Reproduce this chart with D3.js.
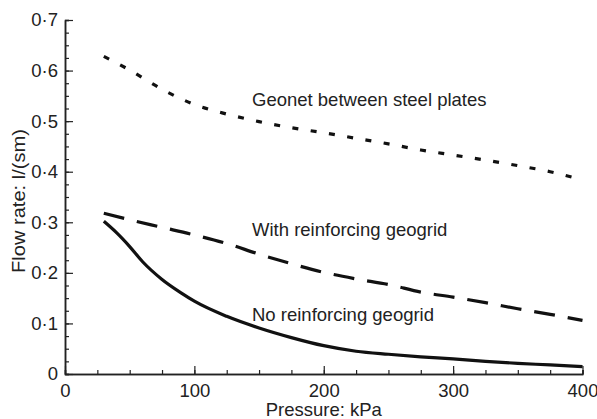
<!DOCTYPE html>
<html><head><meta charset="utf-8">
<script src="https://cdn.jsdelivr.net/npm/d3@7"></script>
<style>
html,body{margin:0;padding:0;background:#fff;}
svg text{font-family:"Liberation Sans",Arial,Helvetica,sans-serif;fill:#222;}
</style></head>
<body><svg id="c" width="597" height="419"></svg>
<script>
// Data
const geonetX = [30,50,75,100,125,150,175,200,225,250,275,300,325,350,375,395];
const geonetY = [0.628,0.601,0.563,0.533,0.514,0.499,0.487,0.477,0.466,0.455,0.443,0.433,0.423,0.412,0.400,0.387];
const withGridX = [30,50,75,100,125,150,175,200,225,250,275,300,325,350,375,400];
const withGridY = [0.318,0.305,0.290,0.275,0.258,0.237,0.218,0.201,0.188,0.177,0.162,0.152,0.141,0.129,0.118,0.106];
const noGridX = [30,40,50,60,75,90,100,125,150,175,200,225,250,275,300,325,350,375,400];
const noGridY = [0.302,0.279,0.252,0.222,0.187,0.160,0.144,0.114,0.091,0.072,0.056,0.045,0.039,0.034,0.030,0.025,0.021,0.018,0.0145];
const xTicks = [0,100,200,300,400];
const xTickLabels = ["0","100","200","300","400"];
const yTicks = [0,0.1,0.2,0.3,0.4,0.5,0.6,0.7];
const yTickLabels = ["0","0·1","0·2","0·3","0·4","0·5","0·6","0·7"];
const seriesNames = ["Geonet between steel plates","With reinforcing geogrid","No reinforcing geogrid"];
const xTitle = "Pressure: kPa";
const yTitle = "Flow rate: l/(sm)";

const svg = d3.select("#c");
const x = d3.scaleLinear().domain([0,400]).range([65,582.5]);
const y = d3.scaleLinear().domain([0,0.7]).range([374,20]);
const FS = 18.5;

// axes
const xMinor = d3.range(0,401,25);
const yMinor = d3.range(0,0.7001,0.025);
const gx = svg.append("g").attr("transform","translate(0,374)");
gx.call(d3.axisBottom(x).tickValues(xMinor).tickSize(-4).tickFormat(""));
gx.append("g").call(d3.axisBottom(x).tickValues(xTicks).tickSize(-8).tickFormat((d,i)=>xTickLabels[i]).tickSizeOuter(0));
gx.selectAll("path.domain").attr("stroke","#222").attr("stroke-width",1.5);
gx.selectAll("line").attr("stroke","#222").attr("stroke-width",1.2);
gx.selectAll("text").attr("font-size",FS).attr("dy",null).attr("y",23).attr("fill","#222");

const gy = svg.append("g").attr("transform","translate(65,0)");
gy.call(d3.axisLeft(y).tickValues(yMinor).tickSize(-4).tickFormat(""));
gy.append("g").call(d3.axisLeft(y).tickValues(yTicks).tickSize(-8).tickFormat((d,i)=>yTickLabels[i]).tickSizeOuter(0));
gy.selectAll("path.domain").attr("stroke","#222").attr("stroke-width",1.5);
gy.selectAll("line").attr("stroke","#222").attr("stroke-width",1.2);
gy.selectAll("text").attr("font-size",FS).attr("x",-7).attr("fill","#222");

// titles
svg.append("text").attr("x",x(200)).attr("y",416).attr("text-anchor","middle").attr("font-size",FS).text(xTitle);
svg.append("text").attr("transform","translate(25,201) rotate(-90)").attr("text-anchor","middle")
  .attr("font-size",19).attr("textLength",144).attr("lengthAdjust","spacingAndGlyphs").text(yTitle);

// lines
const line = d3.line().x(d=>x(d[0])).y(d=>y(d[1])).curve(d3.curveMonotoneX);
function draw(xs, ys, dash){
  svg.append("path").datum(xs.map((v,i)=>[v,ys[i]]))
    .attr("d",line).attr("fill","none").attr("stroke","#111").attr("stroke-width",3.2)
    .attr("stroke-dasharray",dash);
}
draw(geonetX, geonetY, "6,12.5");
draw(withGridX, withGridY, "21,13");
draw(noGridX, noGridY, null);

// labels
svg.append("text").attr("x",252).attr("y",106).attr("font-size",FS).text(seriesNames[0]);
svg.append("text").attr("x",252).attr("y",236).attr("font-size",FS).text(seriesNames[1]);
svg.append("text").attr("x",252).attr("y",321).attr("font-size",FS).text(seriesNames[2]);
</script></body></html>
